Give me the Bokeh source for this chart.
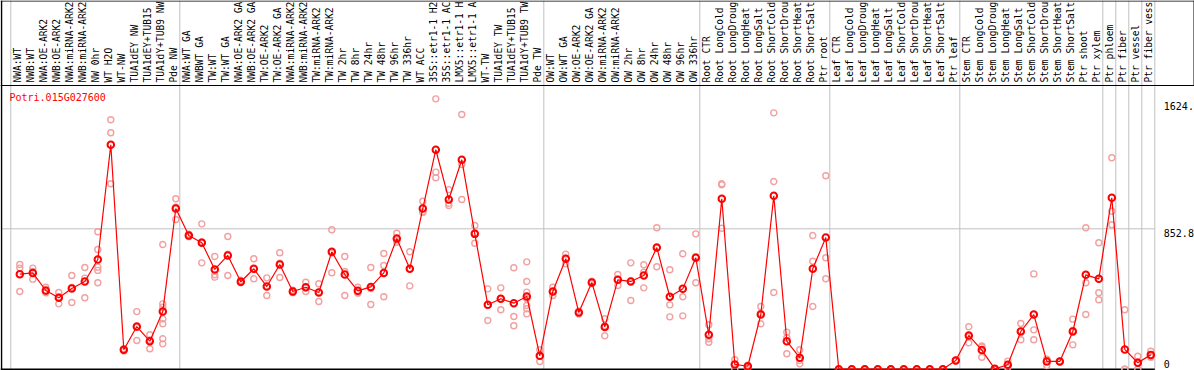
import math
from bokeh.plotting import figure
from bokeh.models import ColumnDataSource, Range1d
from bokeh.core.properties import value
from bokeh.embed import file_html
from bokeh.resources import INLINE

# ---------------- data ----------------
gene = "Potri.015G027600"

categories = [
    "NWA:WT", "NWB:WT", "NWA:OE-ARK2", "NWB:OE-ARK2", "NWA:miRNA-ARK2", "NWB:miRNA-ARK2",
    "NW 0hr", "WT H2O", "WT-NW", "TUA1dEY NW", "TUA1dEY+TUB15", "TUA1dY+TUB9 NW", "Pde NW",
    "NWA:WT GA", "NWBWT GA", "TW:WT", "TW:WT GA", "NWA:OE-ARK2 GA", "NWB:OE-ARK2 GA",
    "TW:OE-ARK2", "TW:OE-ARK2 GA", "NWA:miRNA-ARK2", "NWB:miRNA-ARK2", "TW:miRNA-ARK2",
    "TW:miRNA-ARK2", "TW 2hr", "TW 8hr", "TW 24hr", "TW 48hr", "TW 96hr", "TW 336hr",
    "WT ACC", "35S::etr1-1 H2", "35S::etr1-1 AC", "LMX5::etr1-1 H", "LMX5::etr1-1 A",
    "WT-TW", "TUA1dEY TW", "TUA1dEY+TUB15", "TUA1dY+TUB9 TW", "Pde TW",
    "OW:WT", "OW:WT GA", "OW:OE-ARK2", "OW:OE-ARK2 GA", "OW:miRNA-ARK2", "OW:miRNA-ARK2",
    "OW 2hr", "OW 8hr", "OW 24hr", "OW 48hr", "OW 96hr", "OW 336hr",
    "Root CTR", "Root LongCold", "Root LongDroug", "Root LongHeat", "Root LongSalt",
    "Root ShortCold", "Root ShortDrou", "Root ShortHeat", "Root ShortSalt", "Ptr root",
    "Leaf CTR", "Leaf LongCold", "Leaf LongDroug", "Leaf LongHeat", "Leaf LongSalt",
    "Leaf ShortCold", "Leaf ShortDrou", "Leaf ShortHeat", "Leaf ShortSalt", "Ptr leaf",
    "Stem CTR", "Stem LongCold", "Stem LongDroug", "Stem LongHeat", "Stem LongSalt",
    "Stem ShortCold", "Stem ShortDrou", "Stem ShortHeat", "Stem ShortSalt", "Ptr shoot",
    "Ptr xylem", "Ptr phloem", "Ptr fiber", "Ptr vessel", "Ptr fiber vess",
]

group_sizes = [13, 28, 12, 10, 10, 11, 1, 1, 1, 1]

mean_values = [
    577, 585, 478, 434, 490, 533, 666, 1363, 118, 259, 170, 350, 976,
    812, 768, 606, 691, 531, 610, 502, 636, 472, 498, 466, 713, 575, 476, 500, 585,
    794, 610, 976, 1333, 1031, 1272, 822, 391, 428, 401, 442, 81,
    472, 671, 344, 527, 257, 543, 533, 569, 739, 440, 488, 677,
    209, 1035, 29, 18, 332, 1053, 170, 69, 610, 800,
    0, 0, 0, 0, 0, 0, 0, 0, 0, 53,
    205, 116, 2, 27, 229, 332, 47, 47, 229, 573, 549,
    1041, 120, 39, 87,
]

replicates = [
    [636, 614, 472], [614, 547, 594], [498, 464, 472], [466, 397, 439], [569, 405, 496],
    [618, 553, 434], [835, 727, 620, 600, 525], [1515, 1436, 1126], [110, 125, 118],
    [350, 174, 253], [209, 124, 177], [757, 397, 377, 306, 276, 185, 154], [1035, 909, 984],
    [820, 805, 812], [883, 646, 775], [685, 559, 574], [806, 569, 698], [525, 540, 528],
    [671, 549, 610], [555, 448, 503], [707, 557, 644], [465, 480, 472], [528, 472, 494],
    [519, 411, 468], [847, 586, 706], [685, 593, 448], [498, 462, 468], [618, 393, 490],
    [703, 630, 440], [826, 771, 785], [713, 506, 611], [1020, 954, 954], [1642, 1197, 1163],
    [1091, 994, 1008], [1547, 1243, 1031], [873, 765, 828], [488, 296, 389], [494, 361, 429],
    [616, 320, 264], [652, 533, 468, 428, 387, 367, 336], [118, 47, 78],
    [498, 448, 470], [699, 640, 674], [336, 352, 344], [520, 534, 527], [306, 203, 262],
    [575, 508, 546], [646, 417, 536], [634, 589, 494], [859, 622, 736], [604, 391, 318],
    [701, 440, 324], [822, 525, 684],
    [270, 185, 164], [1126, 1120, 856], [57, 2, 28], [10, 20, 25], [381, 276, 340],
    [1557, 1140, 466], [225, 94, 191], [118, 53, 33], [812, 656, 381], [1175, 677, 549],
    [0, 0, 0], [0, 0, 0], [0, 0, 0], [0, 0, 0], [0, 0, 0],
    [0, 0, 0], [0, 0, 0], [0, 0, 0], [0, 0, 0],
    [50, 55, 53],
    [258, 160, 197], [134, 73, 141], [0, 5, 2], [49, 10, 22], [278, 179, 230],
    [579, 239, 179], [59, 22, 60], [47, 50, 44], [304, 148, 235], [859, 525, 332],
    [768, 464, 422],
    [1284, 960, 877], [361, 0, 0], [79, 0, 38], [109, 73, 80],
]

y_ticks = [0, 852.8, 1624.3]
y_tick_labels = ["0", "852.8", "1624."]

# ---------------- layout constants (screen pixels) ----------------
PX = 13.0            # pixels per category
X0 = 19.3            # screen x of first category
Y0 = 368.7           # screen y of value 0
PY = 140.4 / 852.8   # pixels per unit


def dx(sx):
    return (sx - X0) / PX


def dy(sy):
    return (Y0 - sy) / PY


W, H = 1194, 370
p = figure(width=W, height=H, output_backend="svg", toolbar_location=None,
           x_range=Range1d(dx(0), dx(W)), y_range=Range1d(dy(H), dy(0)),
           min_border=0, outline_line_color=None, background_fill_color="white")
p.axis.visible = False
p.grid.visible = False

MONO = value("DejaVu Sans Mono")
GRAY = "#c0c0c0"

# group separators (span the whole height, header included)
bounds = [0]
for g in group_sizes:
    bounds.append(bounds[-1] + g)
sep_x = [b - 9.0 / PX for b in bounds]
p.segment(x0=sep_x, x1=sep_x, y0=[dy(369)] * len(sep_x), y1=[dy(0)] * len(sep_x),
          line_color=GRAY, line_width=1)
# middle grid line
p.segment(x0=[dx(1)], x1=[sep_x[-1]], y0=[y_ticks[1]], y1=[y_ticks[1]],
          line_color=GRAY, line_width=1)

# black frame lines: header top, header bottom, header right, left, bottom
p.segment(x0=[dx(0), dx(0), dx(1193.5), dx(1), dx(0)],
          x1=[dx(1194), dx(1193.5), dx(1193.5), dx(1), sep_x[-1]],
          y0=[dy(0.5), dy(85), dy(85), dy(0), dy(369)],
          y1=[dy(0.5), dy(85), dy(0), dy(369), dy(369)],
          line_color="black", line_width=[1, 1, 1, 1.5, 2])

xs = list(range(len(categories)))

# replicates
rx, ry = [], []
for i, reps in enumerate(replicates):
    for v in reps:
        rx.append(i)
        ry.append(v)
p.scatter(x=rx, y=ry, marker="circle", size=6, fill_color=None,
          line_color="#f2a0a0", line_width=1.4)

# mean line and points
src = ColumnDataSource(dict(x=xs, y=mean_values))
p.line(x="x", y="y", source=src, line_color="#ff0000", line_width=1.2)
p.scatter(x="x", y="y", source=src, marker="circle", size=6.5, fill_color=None,
          line_color="#ff0000", line_width=2)

# category labels (vertical, in the header)
lab = ColumnDataSource(dict(x=xs, y=[dy(82)] * len(xs), t=categories))
p.text(x="x", y="y", text="t", source=lab, angle=math.pi / 2, x_offset=-2.3,
       text_font=MONO, text_font_size="9.6px", text_align="left",
       text_baseline="middle", text_color="black")

# gene title
p.text(x=[dx(9)], y=[dy(97)], text=[gene], text_font=MONO, text_font_size="10px",
       text_align="left", text_baseline="middle", text_color="#ff0000")

# value labels on the right
p.text(x=[dx(1163.3)] * 3, y=y_ticks, text=y_tick_labels, text_font=MONO,
       text_font_size="10px", text_align="left",
       text_baseline=["bottom", "top", "top"], y_offset=[-1, 0, 0],
       text_color="black")

open("out.html", "w").write(file_html(p, INLINE))
